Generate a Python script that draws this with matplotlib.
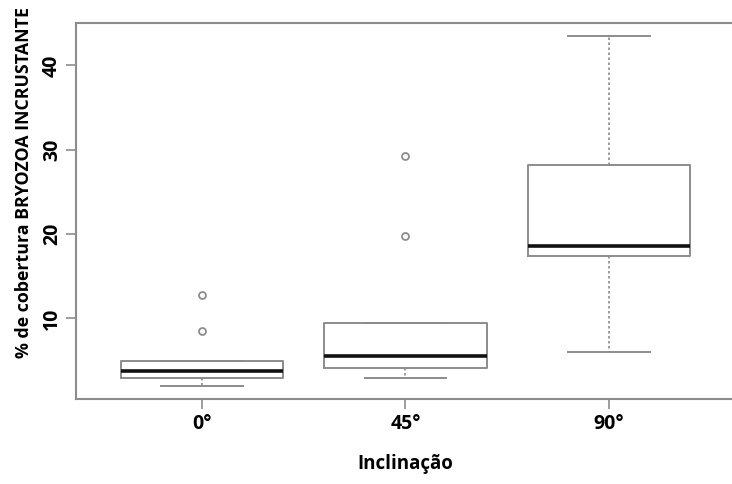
import matplotlib.pyplot as plt

# box statistics (% cover)
categories = ["0°", "45°", "90°"]
q1 = [2.9, 4.1, 17.4]
med = [3.75, 5.5, 18.6]
q3 = [4.95, 9.4, 28.2]
whislo = [1.95, 2.9, 6.0]
whishi = [4.95, 9.4, 43.5]
outliers = [[8.5, 12.8], [19.8, 29.2], []]

plt.rcParams['font.family'] = ['Open Sans', 'DejaVu Sans']
gray = '#8c8c8c'

stats = []
for i, name in enumerate(categories):
    stats.append({
        "label": name,
        "q1": q1[i], "med": med[i], "q3": q3[i],
        "whislo": whislo[i], "whishi": whishi[i],
        "fliers": outliers[i],
    })

fig = plt.figure(figsize=(7.32, 4.84), dpi=100)
ax = fig.add_axes([0.1038, 0.1756, 0.9003, 0.7775])

ax.bxp(stats, positions=[1, 2, 3], widths=0.8, capwidths=0.4,
       boxprops=dict(color=gray, linewidth=1.4),
       medianprops=dict(color='#111111', linewidth=2.6),
       whiskerprops=dict(color=gray, linewidth=1.2, linestyle=(0, (1.5, 1.5))),
       capprops=dict(color=gray, linewidth=1.4),
       flierprops=dict(marker='o', markersize=5, markerfacecolor='none',
                       markeredgecolor=gray, markeredgewidth=1.3))

ax.set_xlim(0.38, 3.62)
ax.set_ylim(0.43, 45.06)
ax.set_yticks([10, 20, 30, 40])
ax.set_yticklabels(["10", "20", "30", "40"], rotation=90, va='center')

for side in ['left', 'bottom', 'top']:
    ax.spines[side].set_color(gray)
    ax.spines[side].set_linewidth(1.5)
ax.spines['right'].set_visible(False)

ax.tick_params(axis='both', colors=gray, length=7, width=1.2, labelsize=14,
               labelcolor='black')
ax.tick_params(axis='y', pad=3)
ax.tick_params(axis='x', pad=4)
for lab in ax.get_xticklabels() + ax.get_yticklabels():
    lab.set_fontweight('bold')

ax.set_xlabel("Inclinação", fontsize=13.5, fontweight='bold', labelpad=14)
fig.text(0.033, 1 - 183 / 484, "% de cobertura BRYOZOA INCRUSTANTE",
         rotation=90, ha='center', va='center', fontsize=12.8,
         fontweight='bold')

fig.savefig("out.png", dpi=100)
